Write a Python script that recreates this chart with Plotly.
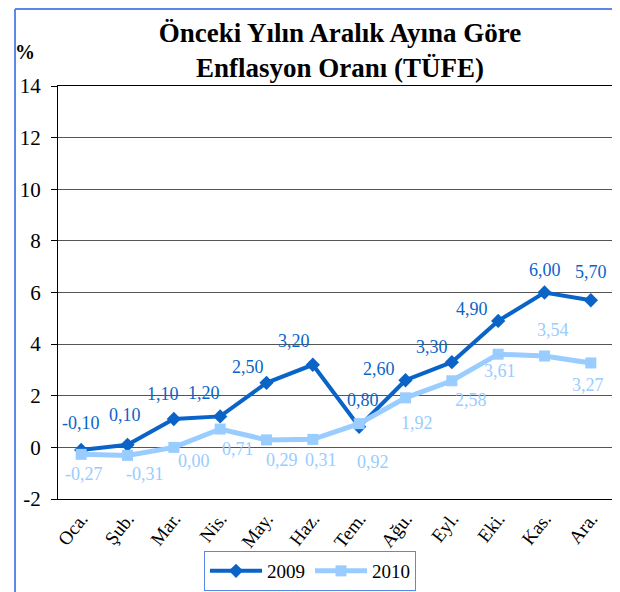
import plotly.graph_objects as go

months = ["Oca.", "Şub.", "Mar.", "Nis.", "May.", "Haz.", "Tem.", "Ağu.", "Eyl.", "Eki.", "Kas.", "Ara."]
values_2009 = [-0.10, 0.10, 1.10, 1.20, 2.50, 3.20, 0.80, 2.60, 3.30, 4.90, 6.00, 5.70]
values_2010 = [-0.27, -0.31, 0.00, 0.71, 0.29, 0.31, 0.92, 1.92, 2.58, 3.61, 3.54, 3.27]
y_ticks = [-2, 0, 2, 4, 6, 8, 10, 12, 14]
y_tick_labels = ["-2", "0", "2", "4", "6", "8", "10", "12", "14"]
series_names = ["2009", "2010"]

# label offsets in pixels (styling only)
dx09 = [0, -3, -11, -16, -19, -19, 4, -27, -20, -26, 0, 0]
dy09 = [27, 30, 25, 23, 16, 24, 27, 11, 15, 12, 23, 28]
dx10 = [3, 17, 20, 18, 15, 8, 14, 11, 19, 2, 8, -3]
dy10 = [-20, -19, -14, -20, -20, -21, -38, -25, -19, -17, 26, -22]

C09 = "#0a64c8"
C10 = "#99ccff"
SERIF = "Liberation Serif"
BORDER = "#5b87e8"

# the page body adds an 8px margin; the figure is sized to fill the rest of the window
W, H = 612, 584


def fmt(v):
    return f"{v:.2f}".replace(".", ",")


fig = go.Figure()
fig.add_trace(go.Scatter(
    x=months, y=values_2009, name=series_names[0], mode="lines+markers",
    line=dict(color=C09, width=4), marker=dict(symbol="diamond", size=11, color=C09),
))
fig.add_trace(go.Scatter(
    x=months, y=values_2010, name=series_names[1], mode="lines+markers",
    line=dict(color=C10, width=5), marker=dict(symbol="square", size=11, color=C10),
))

annotations = []
for m, v, dx, dy in zip(months, values_2009, dx09, dy09):
    annotations.append(dict(x=m, y=v, xref="x", yref="y", text=fmt(v), showarrow=False,
                            xshift=dx, yshift=dy, font=dict(family=SERIF, size=18, color=C09)))
for m, v, dx, dy in zip(months, values_2010, dx10, dy10):
    annotations.append(dict(x=m, y=v, xref="x", yref="y", text=fmt(v), showarrow=False,
                            xshift=dx, yshift=dy, font=dict(family=SERIF, size=18, color=C10)))
annotations.append(dict(x=-0.0594, y=1.083, xref="paper", yref="paper", text="<b>%</b>",
                        xanchor="center", yanchor="middle",
                        showarrow=False, font=dict(family=SERIF, size=20, color="#000")))

fig.update_layout(
    width=W, height=H,
    margin=dict(l=50, r=6, t=78, b=93, autoexpand=False),
    paper_bgcolor="white", plot_bgcolor="white",
    title=dict(text="<b>Önceki Yılın Aralık Ayına Göre<br>Enflasyon Oranı (TÜFE)</b>",
               x=332 / W, xref="container", xanchor="center",
               y=1 - 34 / H, yref="container", yanchor="middle",
               font=dict(family=SERIF, size=27, color="#000")),
    showlegend=True,
    legend=dict(orientation="h", x=302 / W, xref="container", xanchor="center",
                y=1 - 543 / H, yref="container", yanchor="top",
                bordercolor=BORDER, borderwidth=1, bgcolor="white",
                font=dict(family=SERIF, size=19, color="#000"), itemwidth=52),
    annotations=annotations,
    shapes=[
        dict(type="line", xref="paper", yref="paper", x0=-0.0773, x1=-0.0773, y0=-0.3, y1=1.1864,
             line=dict(color=BORDER, width=2)),
        dict(type="line", xref="paper", yref="paper", x0=-0.0773, x1=1.05, y0=1.1864, y1=1.1864,
             line=dict(color=BORDER, width=2)),
        dict(type="line", xref="paper", yref="paper", x0=1, x1=1, y0=0, y1=1,
             line=dict(color="#8a8a8a", width=3)),
    ],
)
fig.update_xaxes(
    type="category", range=[-0.5, 11.5], showgrid=False, automargin=False,
    showline=True, linecolor="#000", linewidth=1, mirror=True,
    ticks="", tickangle=-52,
    tickfont=dict(family=SERIF, size=19, color="#000"),
)
fig.update_yaxes(
    range=[-2, 14], tickmode="array", tickvals=y_ticks, ticktext=y_tick_labels,
    showgrid=True, gridcolor="#555", gridwidth=1,
    zeroline=False, showline=True, linecolor="#000", linewidth=1, automargin=False,
    ticks="outside", ticklen=6, tickcolor="#000", ticklabelstandoff=6,
    tickfont=dict(family=SERIF, size=21, color="#000"),
)

fig.write_html("out.html")
